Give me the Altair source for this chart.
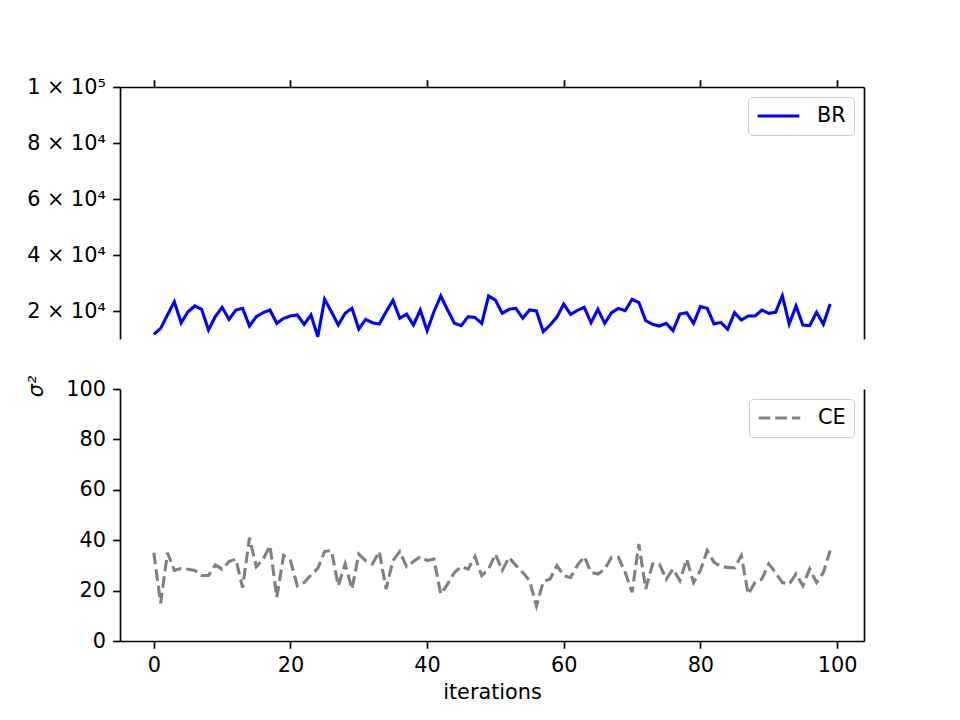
import altair as alt
import pandas as pd

# ---- data ----
iterations = list(range(100))

br_values = [
    11670, 13800, 18570, 23300, 15800, 19750, 21800, 20600, 13200, 18000,
    21300, 17000, 20350, 20950, 14650, 18000, 19400, 20350, 15600, 17400,
    18200, 18570, 15250, 18570, 10800, 24200, 19750, 15000, 19200, 20950,
    13570, 17000, 15800, 15350, 19750, 23800, 17400, 18900, 15000, 20350,
    12960, 19750, 25360, 20350, 15600, 14750, 18000, 17700, 15600, 25360,
    23900, 19200, 20600, 20950, 17400, 20350, 20000, 12600, 15000, 17850,
    22500, 18800, 20200, 21300, 15800, 20600, 15600, 19400, 20950, 20100,
    24170, 22970, 16540, 15240, 14640, 15600, 12980, 18930, 19400, 15600,
    21550, 20950, 15360, 15950, 13450, 19400, 16790, 18210, 18210, 20360,
    19170, 19520, 25480, 15360, 21790, 15000, 14760, 19520, 15240, 22500,
]

ce_values = [
    35.0, 15.0, 35.0, 28.0, 28.8, 28.5, 28.0, 26.0, 26.0, 30.2,
    28.5, 31.5, 32.5, 21.2, 41.0, 29.5, 32.5, 37.8, 17.3, 33.9,
    31.9, 21.9, 23.2, 26.2, 28.8, 35.5, 35.9, 21.9, 30.6, 20.6,
    34.5, 31.9, 30.6, 35.5, 20.6, 31.9, 35.5, 29.5, 31.5, 33.5,
    31.9, 32.5, 18.6, 22.6, 27.2, 29.5, 28.5, 33.5, 25.9, 28.5,
    34.5, 28.0, 33.2, 30.0, 27.2, 23.9, 13.9, 23.5, 24.6, 29.9,
    25.9, 25.2, 30.0, 33.5, 27.2, 26.6, 28.5, 33.2, 33.2, 27.2,
    19.3, 38.5, 20.6, 30.5, 30.5, 24.5, 28.6, 23.9, 32.5, 23.2,
    28.0, 35.9, 31.2, 29.6, 29.2, 29.0, 33.9, 18.6, 23.2, 24.6,
    30.6, 27.2, 23.2, 22.6, 26.6, 21.9, 28.6, 23.2, 27.2, 35.9,
]

x_tick_values = [0, 20, 40, 60, 80, 100]
top_tick_values = [20000, 40000, 60000, 80000, 100000]
bottom_tick_values = [0, 20, 40, 60, 80, 100]

# ---- style ----
FONT = "DejaVu Sans"
FS = 20.8
LW = 3.1
TICK = 7.3
SPINE = 1.67
W, H = 744, 252

df_br = pd.DataFrame({"iteration": iterations, "value": br_values, "series": "BR"})
df_ce = pd.DataFrame({"iteration": iterations, "value": ce_values, "series": "CE"})

x_scale = alt.Scale(domain=[-4.95, 103.95], nice=False, zero=False)
top_y_scale = alt.Scale(domain=[10000, 100000], nice=False, zero=False)
bot_y_scale = alt.Scale(domain=[0, 100], nice=False, zero=False)

legend_common = dict(
    orient="top-right", offset=10, padding=8, strokeColor="#cccccc",
    cornerRadius=4, fillColor="white", title=None, labelFont=FONT,
    labelFontSize=FS, labelColor="black", symbolType="stroke",
    symbolSize=1730, symbolStrokeWidth=LW, labelOffset=16, clipHeight=22,
)

top_x_axis = alt.Axis(orient="top", values=x_tick_values, labels=False, title=None)
bot_x_axis = alt.Axis(values=x_tick_values, title="iterations", format="d", titlePadding=7)

top_line = alt.Chart(df_br).mark_line(strokeWidth=LW).encode(
    x=alt.X("iteration:Q", scale=x_scale, axis=top_x_axis),
    y=alt.Y("value:Q", scale=top_y_scale,
            axis=alt.Axis(values=top_tick_values, title=None,
                          labelExpr="datum.value == 100000 ? '1 × 10⁵' : format(datum.value / 10000, 'd') + ' × 10⁴'")),
    color=alt.Color("series:N", scale=alt.Scale(domain=["BR"], range=["blue"]),
                    legend=alt.Legend(**legend_common)),
)
top_spine = alt.Chart(df_br).mark_line(opacity=0).encode(
    x=alt.X("iteration:Q", scale=x_scale, axis=top_x_axis),
    y=alt.Y("value:Q", scale=top_y_scale,
            axis=alt.Axis(orient="right", ticks=False, labels=False, title=None)),
)
top = alt.layer(top_line, top_spine).resolve_scale(y="independent").properties(width=W, height=H)

bot_line = alt.Chart(df_ce).mark_line(strokeWidth=LW, strokeDash=[11.6, 5]).encode(
    x=alt.X("iteration:Q", scale=x_scale, axis=bot_x_axis),
    y=alt.Y("value:Q", scale=bot_y_scale,
            axis=alt.Axis(values=bottom_tick_values, format="d", title="σ²",
                          titleX=-84, titleY=-3, titleAlign="center",
                          titleBaseline="middle", titleAngle=270, titleFontStyle="italic")),
    color=alt.Color("series:N", scale=alt.Scale(domain=["CE"], range=["gray"]),
                    legend=alt.Legend(symbolDash=[11.6, 5], **legend_common)),
)
bot_spine = alt.Chart(df_ce).mark_line(opacity=0).encode(
    x=alt.X("iteration:Q", scale=x_scale, axis=bot_x_axis),
    y=alt.Y("value:Q", scale=bot_y_scale,
            axis=alt.Axis(orient="right", ticks=False, labels=False, title=None)),
)
bot = alt.layer(bot_line, bot_spine).resolve_scale(y="independent").properties(width=W, height=H)

chart = alt.vconcat(top, bot, spacing=50, bounds="flush").resolve_scale(
    color="independent"
).properties(
    autosize=alt.AutoSizeParams(type="none"),
    padding={"left": 120, "top": 87, "right": 96, "bottom": 633},
    background="white",
).configure_view(stroke=None).configure_axis(
    grid=False, domainColor="black", domainWidth=SPINE, tickColor="black",
    tickWidth=SPINE, tickSize=TICK, labelFont=FONT, labelFontSize=FS,
    labelColor="black", labelPadding=7.3, titleFont=FONT, titleFontSize=FS,
    titleFontWeight="normal", titleColor="black",
)

chart.save("out.html", embed_options={"renderer": "svg", "actions": False})
